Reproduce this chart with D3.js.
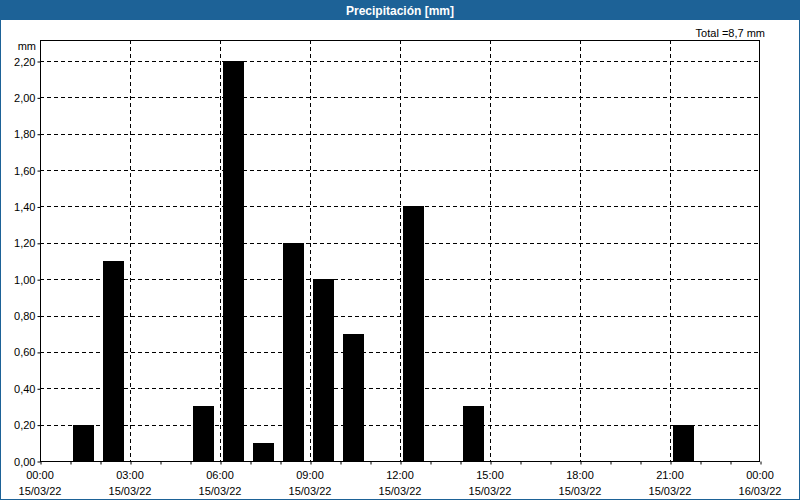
<!DOCTYPE html>
<html><head><meta charset="utf-8">
<script src="https://cdn.jsdelivr.net/npm/d3@7"></script>
<style>html,body{margin:0;padding:0;background:#fff;}svg{display:block;}</style>
</head><body>
<svg id="c" width="800" height="500"></svg>
<script>
const title = "Precipitación [mm]";
const hours = [1, 2, 5, 6, 7, 8, 9, 10, 12, 14, 21];
const values = [0.2, 1.1, 0.3, 2.2, 0.1, 1.2, 1.0, 0.7, 1.4, 0.3, 0.2];
const yTicks = [0, 0.2, 0.4, 0.6, 0.8, 1.0, 1.2, 1.4, 1.6, 1.8, 2.0, 2.2];
const xTicks = [0, 3, 6, 9, 12, 15, 18, 21, 24];
const xTimeLabels = ["00:00","03:00","06:00","09:00","12:00","15:00","18:00","21:00","00:00"];
const xDateLabels = ["15/03/22","15/03/22","15/03/22","15/03/22","15/03/22","15/03/22","15/03/22","15/03/22","16/03/22"];
const totalLabel = "Total =8,7 mm";
const unitLabel = "mm";

const svg = d3.select("#c");
const W = 800, H = 500;
const blue = "#1d6297";
const font = "'Liberation Sans', Arial, sans-serif";
const L = 40, R = 760, T = 40, B = 461;

svg.append("rect").attr("x",0.5).attr("y",0.5).attr("width",W-1).attr("height",H-1)
  .attr("fill","#fff").attr("stroke",blue).attr("stroke-width",1);
svg.append("rect").attr("x",0).attr("y",0).attr("width",W).attr("height",20).attr("fill",blue);
svg.append("text").attr("x",W/2).attr("y",14.5).attr("text-anchor","middle")
  .attr("fill","#fff").attr("font-family",font).attr("font-weight","bold").attr("font-size",12)
  .text(title);

const x = d3.scaleLinear().domain([0,24]).range([L,R]);
const y = d3.scaleLinear().domain([0,2.2]).range([B,61]);
const fmt = d => d.toFixed(2).replace(".", ",");

const g = svg.append("g");
// gridlines
g.selectAll(".hg").data(yTicks.filter(d=>d>0)).join("line")
  .attr("x1",L).attr("x2",R).attr("y1",d=>Math.round(y(d))+0.5).attr("y2",d=>Math.round(y(d))+0.5)
  .attr("stroke","#000").attr("stroke-dasharray","4,3").attr("stroke-width",1);
g.selectAll(".vg").data(xTicks.filter(d=>d>0&&d<24)).join("line")
  .attr("x1",d=>Math.round(x(d))+0.5).attr("x2",d=>Math.round(x(d))+0.5).attr("y1",T).attr("y2",B)
  .attr("stroke","#000").attr("stroke-dasharray","4,3").attr("stroke-width",1);

// bars
const hw = x(1)-x(0);
g.selectAll(".bar").data(hours.map((h,i)=>({h, v: values[i]}))).join("rect")
  .attr("x",d=>x(d.h)+3).attr("width",hw-9)
  .attr("y",d=>Math.round(y(d.v))).attr("height",d=>B-Math.round(y(d.v)))
  .attr("fill","#000");

// frame
svg.append("rect").attr("x",L+0.5).attr("y",T+0.5).attr("width",R-L-1).attr("height",B-T)
  .attr("fill","none").attr("stroke","#000").attr("stroke-width",1);

// y axis ticks and labels
const yAxis = d3.axisLeft(y).tickValues(yTicks).tickFormat(fmt).tickSize(3).tickPadding(2);
const ya = svg.append("g").attr("transform",`translate(${L+0.5},0.5)`).call(yAxis);
ya.select(".domain").remove();
ya.selectAll("text").attr("font-family",font).attr("font-size",11).attr("fill","#000");

// x minor ticks
const xAxisMinor = d3.axisBottom(x).tickValues(d3.range(0,25)).tickFormat("").tickSize(3);
const xa = svg.append("g").attr("transform",`translate(0.5,${B+0.5})`).call(xAxisMinor);
xa.select(".domain").remove();

// x labels
const lab = svg.append("g").attr("font-family",font).attr("font-size",11).attr("fill","#000").attr("text-anchor","middle");
lab.selectAll(".t").data(xTicks).join("text").attr("x",d=>x(d)).attr("y",479).text((d,i)=>xTimeLabels[i]);
lab.selectAll(".d").data(xTicks).join("text").attr("x",d=>x(d)).attr("y",495).text((d,i)=>xDateLabels[i]);

svg.append("text").attr("x",36).attr("y",50).attr("text-anchor","end")
  .attr("font-family",font).attr("font-size",11).text(unitLabel);
svg.append("text").attr("x",765).attr("y",37).attr("text-anchor","end")
  .attr("font-family",font).attr("font-size",11).text(totalLabel);
</script>
</body></html>
